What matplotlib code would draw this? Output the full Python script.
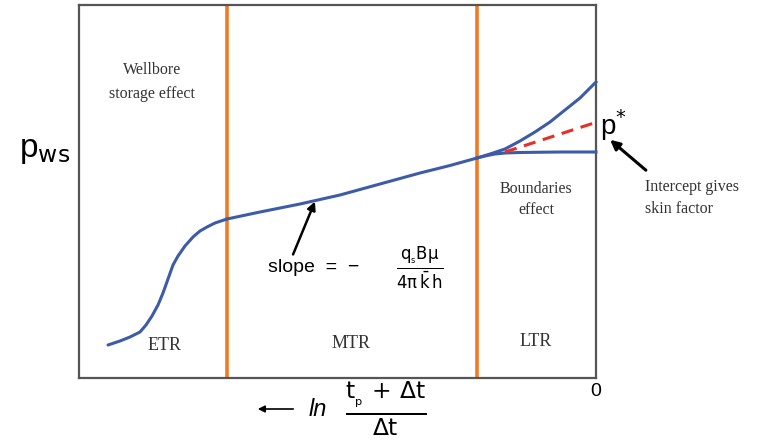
import matplotlib
matplotlib.use('Agg')
import matplotlib.pyplot as plt

plt.rcParams['mathtext.fontset'] = 'dejavusans'

# curve (pixel-like units, y grows downwards)
etr_x = [108, 120, 130, 140, 146, 152, 158, 163, 168, 173, 178, 185, 193, 200, 207, 215, 227]
etr_y = [345, 341, 337, 332, 325, 316, 305, 293, 279, 265, 256, 246, 237, 231, 227, 223, 219]
mtr_x = [227, 260, 300, 340, 380, 420, 450, 477]
mtr_y = [219, 212, 204, 195, 184, 173, 165.5, 158]
up_x = [477, 490, 505, 520, 535, 550, 565, 580, 596]
up_y = [158, 154, 149, 141, 132, 122, 110, 98, 82]
flat_x = [477, 485, 495, 505, 520, 560, 596]
flat_y = [158, 156, 154, 153, 152.5, 152, 152]
pstar_x = [505, 597]
pstar_y = [152, 122]
bounds = [227, 477]

blue = '#3d5ca8'
orange = '#f07b24'
red = '#e62f27'
serif = 'Liberation Serif'
sans = 'Liberation Sans'

fig = plt.figure(figsize=(7.64, 4.45), dpi=100)
ax = fig.add_axes([79 / 764, 1 - 378 / 445, 517 / 764, 373 / 445])
ax.set_xlim(79, 596)
ax.set_ylim(378, 5)
ax.set_xticks([])
ax.set_yticks([])
for s in ax.spines.values():
    s.set_color('#555555')
    s.set_linewidth(1.6)

for b in bounds:
    ax.axvline(b, color=orange, lw=2.6, zorder=2)

ax.plot(etr_x, etr_y, color=blue, lw=2.2, zorder=3, solid_capstyle='round')
ax.plot(mtr_x, mtr_y, color=blue, lw=2.2, zorder=3)
ax.plot(up_x, up_y, color=blue, lw=2.2, zorder=3, clip_on=False)
ax.plot(flat_x, flat_y, color=blue, lw=2.2, zorder=3, clip_on=False)
ax.plot(pstar_x, pstar_y, color=red, lw=2.2, ls=(0, (4, 2.5)), zorder=4, clip_on=False)

# region labels
ax.text(152, 70, 'Wellbore', ha='center', va='center', fontsize=11.5, family=serif, color='#333333')
ax.text(152, 94, 'storage effect', ha='center', va='center', fontsize=11.5, family=serif, color='#333333')
ax.text(536, 189, 'Boundaries', ha='center', va='center', fontsize=11.5, family=serif, color='#333333')
ax.text(536, 210, 'effect', ha='center', va='center', fontsize=11.5, family=serif, color='#333333')
ax.text(165, 345, 'ETR', ha='center', va='center', fontsize=13, family=serif, color='#333333')
ax.text(351, 343, 'MTR', ha='center', va='center', fontsize=13, family=serif, color='#333333')
ax.text(536, 342, 'LTR', ha='center', va='center', fontsize=13, family=serif, color='#333333')

# slope annotation
ax.annotate('', xy=(316, 199), xytext=(292, 257),
            arrowprops=dict(arrowstyle='-|>', color='black', lw=1.8, mutation_scale=12))
ax.text(268, 268, 'slope  =  \u2212', ha='left', va='center', fontsize=14, family=sans)
ax.text(420, 268, r'$\frac{\mathrm{q_{_s}B\mu}}{\mathrm{4\pi}\,\bar{\mathrm{k}}\,\mathrm{h}}$',
        ha='center', va='center', fontsize=17)

# p* and intercept
ax.text(600, 125, r'p$^{*}$', ha='left', va='center', fontsize=20, family=sans, clip_on=False)
ax.annotate('', xy=(608, 138), xytext=(648, 172), annotation_clip=False,
            arrowprops=dict(arrowstyle='-|>', color='black', lw=2.2, mutation_scale=14))
ax.text(645, 187, 'Intercept gives', ha='left', va='center', fontsize=11.5, family=serif, color='#333333')
ax.text(645, 209, 'skin factor', ha='left', va='center', fontsize=11.5, family=serif, color='#333333')

# axis labels
ax.text(45, 150, r'p$_{\mathrm{ws}}$', ha='center', va='center', fontsize=24, family=sans, clip_on=False)
ax.text(596, 392, '0', ha='center', va='center', fontsize=14, family=sans)
ax.annotate('', xy=(255, 409), xytext=(296, 409), annotation_clip=False,
            arrowprops=dict(arrowstyle='-|>', color='black', lw=1.2, mutation_scale=10))
ax.text(318, 409, 'ln', ha='center', va='center', fontsize=17, family=sans, style='italic')
ax.text(386, 409, r'$\frac{\mathrm{t_{_p}}\,+\,\Delta\mathrm{t}}{\Delta\mathrm{t}}$',
        ha='center', va='center', fontsize=24)

fig.savefig('out.png', dpi=100)
